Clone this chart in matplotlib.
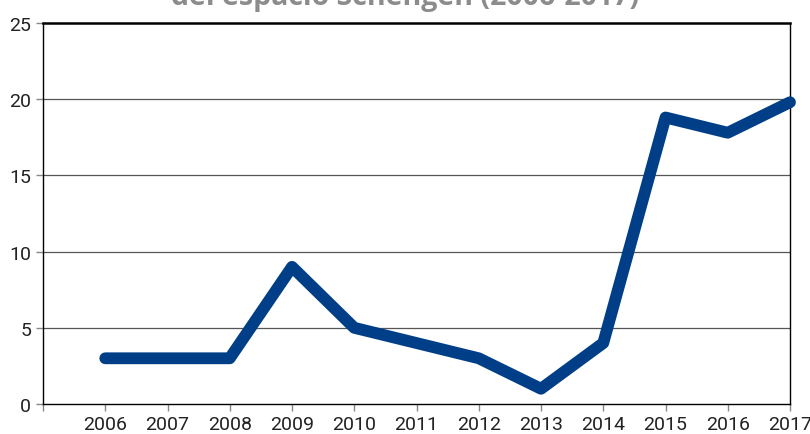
import matplotlib.pyplot as plt

plt.rcParams['font.family'] = ['Roboto', 'DejaVu Sans']

# Data
years = [2006, 2007, 2008, 2009, 2010, 2011, 2012, 2013, 2014, 2015, 2016, 2017]
values = [3, 3, 3, 9, 5, 4, 3, 1, 4, 18.8, 17.8, 19.8]
title = 'del espacio Schengen (2006-2017)'

fig = plt.figure(figsize=(8.1, 4.35), dpi=100)
ax = fig.add_axes([43 / 810, 1 - 405 / 435, (790 - 43) / 810, (405 - 24) / 435])

# gridlines behind the line
for y in [5, 10, 15, 20]:
    ax.axhline(y, color='#555555', lw=0.9, zorder=1)

ax.plot(years, values, color='#003f87', lw=8.5, solid_capstyle='round',
        solid_joinstyle='round', zorder=3, clip_on=False)

ax.set_xlim(2005, 2017)
ax.set_ylim(0, 25)
ax.set_xticks(range(2005, 2018))
ax.set_xticklabels([''] + [str(y) for y in years])
ax.set_yticks([0, 5, 10, 15, 20, 25])

for s in ax.spines.values():
    s.set_color('black')
    s.set_linewidth(1.0)
ax.spines['top'].set_linewidth(1.8)

ax.tick_params(axis='both', colors='#888888', labelcolor='#222222',
               labelsize=14, length=5, width=1)
ax.tick_params(axis='x', pad=3)

fig.text(0.5, 1 - 5 / 435, title, ha='center', va='baseline',
         fontsize=20.5, fontweight='bold', color='#8c8c8c', family=['Open Sans'])

fig.savefig('out.png', dpi=100)
